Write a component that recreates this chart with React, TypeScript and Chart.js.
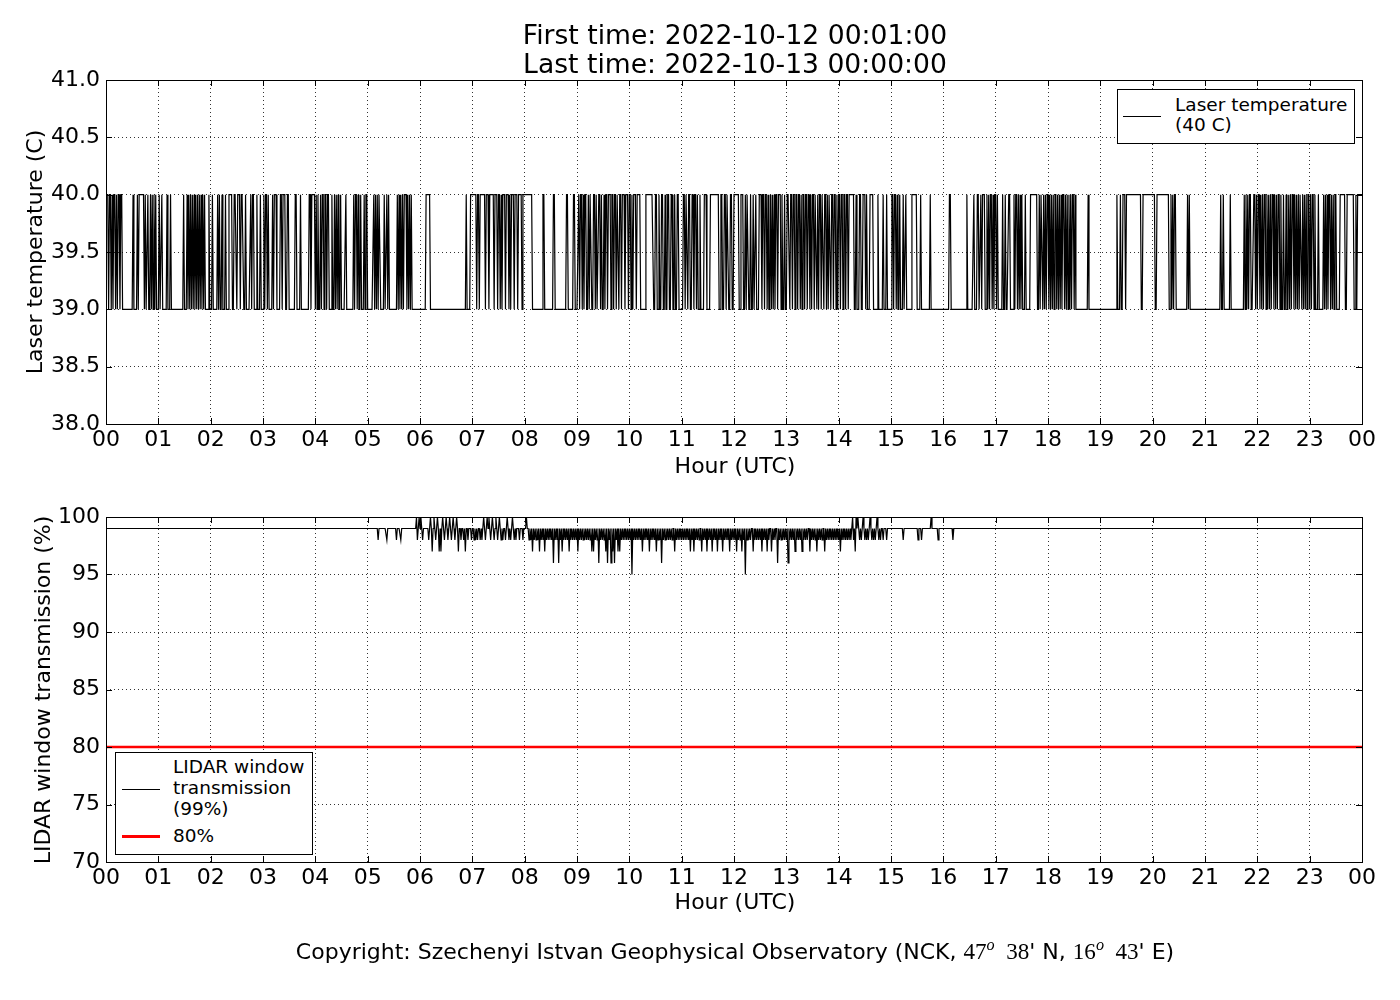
import { useEffect, useRef, type ReactNode } from "react";
import { Chart, registerables, type ChartConfiguration, type Plugin } from "chart.js";

Chart.register(...registerables);

const FONT = "'DejaVu Sans', 'Liberation Sans', sans-serif";

// minutes of the day (1..1440) at which the laser sat at 40 C, as [start, end) runs
const tempHighRuns: [number, number][] = [
  [1, 3], [4, 6], [7, 8], [9, 11], [12, 13], [14, 16], [17, 19], [31, 32], [36, 37], [38, 44], [45, 46], [48, 49],
  [51, 52], [53, 54], [55, 56], [57, 58],
  [61, 62], [64, 65], [70, 71], [74, 75], [89, 90], [93, 94], [95, 96], [97, 98], [99, 100], [101, 102], [103, 104],
  [105, 106], [107, 108], [109, 110], [111, 112], [113, 114], [118, 119],
  [122, 123], [128, 129], [130, 131], [133, 134], [137, 138], [141, 145], [147, 150], [151, 154], [155, 158],
  [160, 161], [166, 167], [168, 170], [173, 174], [177, 178],
  [181, 182], [183, 185], [186, 187], [191, 192], [193, 196], [200, 202], [203, 206], [208, 210], [217, 219],
  [223, 224], [233, 235], [236, 240],
  [241, 242], [243, 244], [246, 247], [248, 250], [251, 253], [254, 256], [259, 260], [262, 263], [264, 265],
  [266, 267], [269, 270], [275, 276], [284, 285], [286, 288], [289, 290], [292, 293], [296, 297], [298, 300],
  [307, 308], [309, 310], [311, 312], [313, 315], [319, 320], [322, 323], [324, 325], [334, 335], [336, 337],
  [338, 339], [340, 341], [342, 345], [346, 347], [348, 349], [350, 351],
  [367, 372], [413, 414], [418, 425], [426, 428], [429, 435], [436, 439], [440, 445], [446, 449], [450, 452],
  [453, 454], [455, 458], [459, 462], [463, 464], [465, 468], [469, 472], [473, 477], [478, 489],
  [501, 503], [513, 515], [528, 530], [536, 538],
  [542, 543], [544, 546], [547, 548], [549, 551], [553, 554], [555, 557], [559, 561], [562, 563], [565, 567],
  [568, 569], [571, 572], [573, 575], [576, 579], [580, 582], [583, 585], [586, 588], [589, 591], [592, 595],
  [596, 599], [600, 602], [603, 604], [605, 608], [609, 613], [619, 628], [630, 632], [634, 635], [637, 639],
  [641, 642], [644, 646], [648, 650], [652, 653], [655, 657],
  [662, 664], [665, 667], [668, 670], [672, 674], [675, 677], [678, 679], [681, 682], [686, 689], [693, 703],
  [705, 707], [709, 711], [712, 714], [716, 718], [720, 726],
  [728, 731], [733, 734], [735, 737], [739, 740], [742, 743], [745, 746], [749, 752], [753, 755], [756, 758],
  [759, 760], [762, 763], [764, 765], [766, 767], [768, 770], [771, 774], [775, 776], [778, 779],
  [781, 784], [785, 787], [788, 790], [791, 793], [794, 796], [797, 798], [799, 801], [802, 804], [805, 807],
  [808, 809], [810, 812], [813, 815], [816, 817], [818, 820], [821, 823], [824, 826], [827, 828], [829, 831],
  [832, 834], [835, 837], [838, 839],
  [840, 842], [843, 845], [846, 848], [849, 851], [852, 858], [860, 861], [864, 866], [868, 871], [872, 873],
  [876, 880], [885, 886], [891, 892], [895, 896],
  [901, 903], [904, 906], [907, 908], [910, 911], [914, 915], [917, 918], [924, 930], [934, 935], [945, 946],
  [967, 969], [987, 988], [995, 996], [999, 1001], [1003, 1004], [1005, 1008], [1010, 1011], [1012, 1013],
  [1014, 1016], [1017, 1018], [1019, 1021], [1022, 1023], [1028, 1029], [1031, 1032], [1035, 1037],
  [1041, 1042], [1043, 1045], [1046, 1047], [1048, 1049], [1050, 1051], [1054, 1055], [1060, 1068],
  [1070, 1071], [1072, 1074], [1075, 1076], [1077, 1078], [1079, 1081],
  [1082, 1083], [1084, 1085], [1086, 1087], [1088, 1090], [1091, 1092], [1093, 1094], [1095, 1096],
  [1097, 1099], [1100, 1101], [1102, 1103], [1104, 1105], [1106, 1107], [1108, 1110], [1111, 1112],
  [1126, 1127],
  [1159, 1160], [1163, 1164], [1166, 1169], [1170, 1187], [1189, 1203],
  [1205, 1219], [1221, 1222], [1223, 1224], [1225, 1227], [1240, 1241], [1242, 1243],
  [1278, 1279], [1281, 1282], [1289, 1290], [1305, 1306], [1307, 1308], [1309, 1310], [1311, 1313],
  [1316, 1318], [1319, 1320],
  [1321, 1323], [1324, 1325], [1326, 1327], [1328, 1330], [1331, 1332], [1333, 1334], [1335, 1336],
  [1337, 1339], [1340, 1341], [1342, 1343], [1344, 1346], [1347, 1348], [1350, 1351], [1353, 1354],
  [1356, 1357], [1358, 1359], [1360, 1362], [1363, 1364], [1365, 1366], [1367, 1368], [1369, 1371],
  [1372, 1373], [1374, 1375], [1376, 1377], [1378, 1380],
  [1381, 1382], [1383, 1385], [1386, 1387], [1390, 1391], [1396, 1397], [1398, 1399], [1400, 1401],
  [1402, 1404], [1405, 1406], [1407, 1408], [1409, 1411], [1415, 1421], [1423, 1431], [1433, 1434],
  [1435, 1441],
];

// LIDAR window transmission: steady at the baseline except these [minute, %] readings
const lidarBaseline = 99;
const lidarExcursions: [number, number][] = [
  [312, 98], [322, 98], [333, 98], [338, 98],
  [356, 100], [357, 98], [359, 100], [361, 100], [363, 98],
  [370, 98], [372, 100], [374, 97], [376, 100], [378, 98], [380, 100], [382, 97], [384, 97], [386, 100],
  [388, 98], [390, 100], [392, 98], [394, 100], [396, 98], [398, 100], [400, 98], [402, 100], [404, 97],
  [407, 98], [410, 98], [412, 97],
  [415, 98], [419, 98], [422, 98], [424, 98], [426, 98], [429, 98], [431, 98],
  [433, 100], [435, 98], [437, 100], [439, 100], [441, 98], [443, 100], [445, 98], [447, 100], [449, 98],
  [451, 100], [453, 98], [455, 98], [458, 98], [460, 100], [462, 98], [464, 98], [466, 100], [468, 98],
  [470, 98], [474, 98], [478, 98], [482, 100],
  [485, 98], [487, 98], [489, 97], [491, 98], [493, 98], [495, 98], [497, 97], [499, 98], [501, 98],
  [503, 97], [505, 98], [507, 98], [509, 98], [511, 98], [513, 96], [515, 98], [517, 98], [519, 96],
  [521, 98], [523, 97], [525, 98], [527, 98], [529, 98], [531, 97], [533, 98], [535, 98], [537, 98],
  [539, 98], [541, 97], [543, 98],
  [545, 98], [547, 98], [549, 98], [551, 98], [553, 98], [555, 98], [557, 97], [559, 97], [561, 98],
  [563, 98], [565, 96], [567, 98], [569, 98], [571, 98], [573, 97], [575, 96], [577, 98], [579, 96],
  [581, 97], [583, 96], [585, 98], [587, 97], [589, 97], [591, 98], [593, 98], [595, 98], [597, 98],
  [599, 98],
  [601, 98], [603, 95], [605, 98], [607, 98], [609, 98], [611, 98], [613, 98], [615, 97], [617, 98],
  [619, 98], [621, 98], [623, 97], [625, 98], [627, 98], [629, 98], [631, 97], [633, 98], [635, 98],
  [637, 96], [639, 98], [641, 98], [643, 98], [645, 98], [647, 98], [649, 98], [652, 97], [654, 98],
  [656, 98], [658, 98],
  [660, 98], [662, 98], [664, 98], [666, 98], [668, 98], [670, 97], [672, 98], [674, 97], [676, 98],
  [678, 98], [680, 98], [683, 97], [685, 98], [687, 98], [689, 97], [691, 98], [693, 98], [695, 97],
  [697, 98], [699, 98], [701, 97], [703, 98], [705, 98], [707, 97], [709, 98], [711, 98], [713, 98],
  [715, 97], [717, 98], [719, 98],
  [721, 98], [723, 97], [725, 98], [727, 98], [729, 97], [731, 98], [733, 95], [735, 98], [737, 98],
  [739, 98], [742, 97], [744, 98], [746, 98], [748, 98], [750, 98], [752, 97], [754, 98], [756, 98],
  [758, 97], [760, 98], [763, 97], [765, 98], [767, 98], [770, 96], [772, 98], [774, 98], [776, 98],
  [778, 98],
  [780, 98], [782, 96], [784, 98], [786, 98], [788, 98], [790, 97], [792, 98], [794, 98], [796, 98],
  [798, 97], [800, 98], [802, 98], [804, 98], [807, 97], [809, 98], [811, 98], [813, 98], [815, 97],
  [817, 98], [819, 98], [821, 98], [824, 97], [826, 98], [828, 98], [830, 98], [832, 98], [834, 98],
  [836, 98], [838, 98],
  [840, 98], [842, 97], [844, 98], [846, 98], [848, 98], [850, 98], [852, 98], [854, 98], [856, 100],
  [857, 98], [859, 97], [860, 100], [862, 100], [864, 98], [866, 98], [868, 100], [870, 98], [872, 98],
  [874, 98], [876, 100], [878, 98], [880, 98], [882, 98], [884, 100], [886, 98], [888, 98], [891, 98],
  [895, 98],
  [914, 98], [931, 98], [935, 98], [946, 100], [954, 98], [971, 98],
];

const lidarThreshold = 80;
const dayMinutes = 1440;

const temperaturePoints = Array.from({ length: dayMinutes }, (_, i) => {
  const m = i + 1;
  const high = tempHighRuns.some(([a, b]) => m >= a && m < b);
  return { x: m, y: high ? 40 : 39 };
});

const excursionMap = new Map(lidarExcursions);
const lidarPoints = Array.from({ length: dayMinutes }, (_, i) => {
  const m = i + 1;
  return { x: m, y: excursionMap.get(m) ?? lidarBaseline };
});

const hourLabel = (v: number | string) => String(Math.round(Number(v) / 60) % 24).padStart(2, "0");

const framePlugin: Plugin = {
  id: "frame",
  afterDraw(chart) {
    const { ctx, chartArea: a, scales } = chart;
    const tick = 6;
    ctx.save();
    ctx.strokeStyle = "#000";
    ctx.lineWidth = 1;
    ctx.beginPath();
    for (const t of scales.x.ticks) {
      const px = Math.round(scales.x.getPixelForValue(t.value)) + 0.5;
      ctx.moveTo(px, a.bottom);
      ctx.lineTo(px, a.bottom - tick);
      ctx.moveTo(px, a.top);
      ctx.lineTo(px, a.top + tick);
    }
    for (const t of scales.y.ticks) {
      const py = Math.round(scales.y.getPixelForValue(t.value)) + 0.5;
      ctx.moveTo(a.left, py);
      ctx.lineTo(a.left + tick, py);
      ctx.moveTo(a.right, py);
      ctx.lineTo(a.right - tick, py);
    }
    ctx.stroke();
    ctx.strokeRect(a.left + 0.5, a.top + 0.5, a.right - a.left, a.bottom - a.top);
    ctx.restore();
  },
};

function baseOptions(yMin: number, yMax: number, yStep: number, yFmt: (v: number) => string, top: number, xHeight: number) {
  return {
    responsive: false,
    animation: false as const,
    events: [],
    layout: { padding: { top, right: 38, left: 0, bottom: 0 } },
    plugins: { legend: { display: false }, tooltip: { enabled: false } },
    scales: {
      x: {
        type: "linear" as const,
        min: 0,
        max: dayMinutes,
        z: 1,
        afterFit: (s: any) => {
          s.height = xHeight;
        },
        grid: { color: "rgba(0,0,0,0.8)", lineWidth: 1, drawTicks: false },
        border: { display: false, dash: [1, 3] },
        ticks: {
          stepSize: 60,
          autoSkip: false,
          maxRotation: 0,
          padding: 3,
          color: "#000",
          font: { family: FONT, size: 22 },
          callback: hourLabel,
        },
      },
      y: {
        min: yMin,
        max: yMax,
        z: 1,
        afterFit: (s: any) => {
          s.width = 106;
        },
        grid: { color: "rgba(0,0,0,0.8)", lineWidth: 1, drawTicks: false },
        border: { display: false, dash: [1, 3] },
        ticks: {
          stepSize: yStep,
          padding: 6,
          color: "#000",
          font: { family: FONT, size: 22 },
          callback: (v: number | string) => yFmt(Number(v)),
        },
      },
    },
  };
}

function Text({ x, y, size, children, rotate = 0, left = false }: { x: number; y: number; size: number; children: ReactNode; rotate?: number; left?: boolean }) {
  return (
    <div
      style={{
        position: "absolute",
        left: x,
        top: y,
        fontSize: size,
        lineHeight: 1,
        whiteSpace: "nowrap",
        color: "#000",
        transform: `translate(${left ? "0" : "-50%"}, -50%) rotate(${rotate}deg)`,
      }}
    >
      {children}
    </div>
  );
}

export default function App() {
  const topRef = useRef<HTMLCanvasElement | null>(null);
  const bottomRef = useRef<HTMLCanvasElement | null>(null);

  useEffect(() => {
    if (!topRef.current || !bottomRef.current) return;
    const topConfig: ChartConfiguration<"line"> = {
      type: "line",
      data: {
        datasets: [
          {
            data: temperaturePoints,
            borderColor: "#000",
            borderWidth: 1.2,
            pointRadius: 0,
            tension: 0,
          },
        ],
      },
      options: baseOptions(38, 41, 0.5, (v) => v.toFixed(1), 80, 56) as any,
      plugins: [framePlugin],
    };
    const bottomConfig: ChartConfiguration<"line"> = {
      type: "line",
      data: {
        datasets: [
          {
            data: lidarPoints,
            borderColor: "#000",
            borderWidth: 1.2,
            pointRadius: 0,
            tension: 0,
          },
          {
            data: [
              { x: 0, y: lidarThreshold },
              { x: dayMinutes, y: lidarThreshold },
            ],
            borderColor: "#ff0000",
            borderWidth: 2.5,
            pointRadius: 0,
          },
        ],
      },
      options: baseOptions(70, 100, 5, (v) => String(Math.round(v)), 37, 78) as any,
      plugins: [framePlugin],
    };
    const top = new Chart(topRef.current, topConfig);
    const bottom = new Chart(bottomRef.current, bottomConfig);
    return () => {
      top.destroy();
      bottom.destroy();
    };
  }, []);

  const serif = { fontFamily: "'Liberation Serif', 'DejaVu Serif', serif", fontSize: "1.05em" };

  return (
    <div style={{ position: "absolute", left: 0, top: 0, width: 1400, height: 1000, background: "#fff", fontFamily: FONT }}>
      <canvas ref={topRef} width={1400} height={480} style={{ position: "absolute", left: 0, top: 0 }} />
      <canvas ref={bottomRef} width={1400} height={460} style={{ position: "absolute", left: 0, top: 480 }} />

      <Text x={735} y={35} size={26.6}>First time: 2022-10-12 00:01:00</Text>
      <Text x={735} y={64} size={26.6}>Last time: 2022-10-13 00:00:00</Text>

      <Text x={35} y={252} size={22} rotate={-90}>Laser temperature (C)</Text>
      <Text x={735} y={466} size={22}>Hour (UTC)</Text>
      <Text x={43} y={690} size={22} rotate={-90}>LIDAR window transmission (%)</Text>
      <Text x={735} y={902} size={22}>Hour (UTC)</Text>

      <div style={{ position: "absolute", left: 1117, top: 89, width: 236, height: 53, border: "1px solid #000", background: "#fff" }} />
      <div style={{ position: "absolute", left: 1123, top: 116, width: 38, height: 1, background: "#000" }} />
      <Text x={1175} y={105} size={18.5} left>Laser temperature</Text>
      <Text x={1175} y={125} size={18.5} left>(40 C)</Text>

      <div style={{ position: "absolute", left: 115, top: 752, width: 196, height: 101, border: "1px solid #000", background: "#fff" }} />
      <div style={{ position: "absolute", left: 122, top: 789, width: 38, height: 1, background: "#000" }} />
      <Text x={173} y={767} size={18.5} left>LIDAR window</Text>
      <Text x={173} y={788} size={18.5} left>transmission</Text>
      <Text x={173} y={809} size={18.5} left>(99%)</Text>
      <div style={{ position: "absolute", left: 122, top: 835, width: 38, height: 3, background: "#ff0000" }} />
      <Text x={173} y={836} size={18.5} left>80%</Text>

      <Text x={735} y={950} size={22}>
        Copyright: Szechenyi Istvan Geophysical Observatory (NCK,{" "}
        <span style={serif}>
          47<sup style={{ fontSize: "0.7em", fontStyle: "italic" }}>o</sup>&nbsp;&nbsp;38
        </span>
        ' N,{" "}
        <span style={serif}>
          16<sup style={{ fontSize: "0.7em", fontStyle: "italic" }}>o</sup>&nbsp;&nbsp;43
        </span>
        ' E)
      </Text>
    </div>
  );
}
